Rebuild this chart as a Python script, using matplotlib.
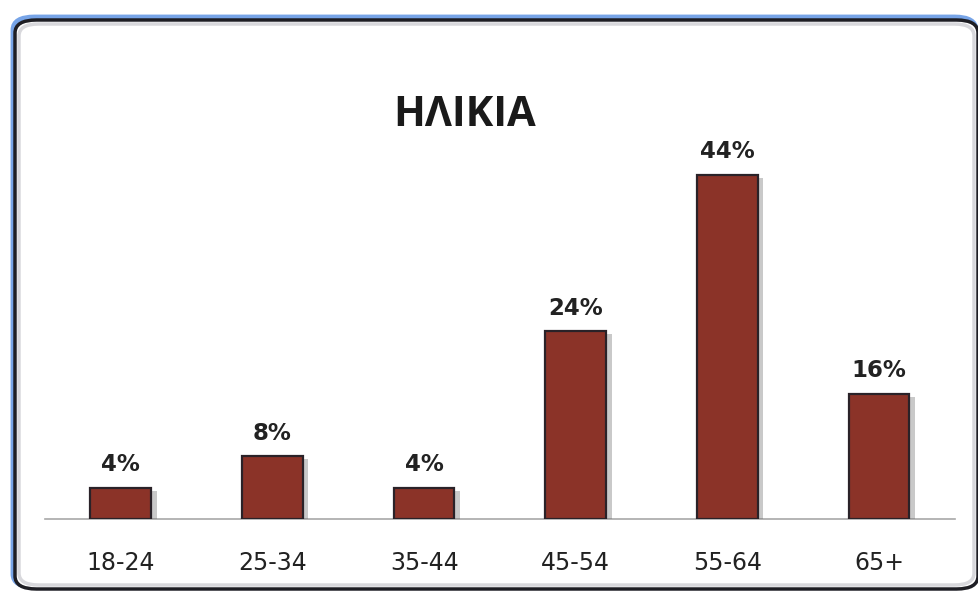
#!/usr/bin/env python3
import matplotlib
matplotlib.use("Agg")
import matplotlib.pyplot as plt
import matplotlib.patheffects as pe
from matplotlib.patches import FancyBboxPatch

# ---------- DATA ----------
AGE_GROUPS = ["18-24", "25-34", "35-44", "45-54", "55-64", "65+"]
PERCENTS = [4, 8, 4, 24, 44, 16]
TITLE = "ΗΛΙΚΙΑ"

# ---------- STYLE ----------
BAR_COLOR = "#8b3328"
BAR_EDGE = "#2a2228"
AXIS_COLOR = "#a8a8a8"
TEXT_COLOR = "#222222"
plt.rcParams['font.family'] = ['DejaVu Sans']

W, H = 979, 592
fig = plt.figure(figsize=(W / 100, H / 100), dpi=100)
fig.patch.set_facecolor("white")

# rounded frame drawn in figure pixel coords
def px_box(x0, y0, x1, y1):
    # y measured from top of image
    return (x0 / W, 1 - y1 / H, (x1 - x0) / W, (y1 - y0) / H)

bx, by, bw, bh = px_box(13, 17, 976, 587)
glow = FancyBboxPatch((bx, by), bw, bh, boxstyle="round,pad=0,rounding_size=0.022",
                      transform=fig.transFigure, facecolor="none",
                      edgecolor="#4a86e0", linewidth=3.5, alpha=0.75, zorder=0)
fig.patches.append(glow)
bx, by, bw, bh = px_box(15, 20, 978, 589)
frame = FancyBboxPatch((bx, by), bw, bh, boxstyle="round,pad=0,rounding_size=0.022",
                       transform=fig.transFigure, facecolor="white",
                       edgecolor="#1e1e24", linewidth=2.5, zorder=1)
fig.patches.append(frame)
bx, by, bw, bh = px_box(19, 24, 974, 585)
inner = FancyBboxPatch((bx, by), bw, bh, boxstyle="round,pad=0,rounding_size=0.02",
                       transform=fig.transFigure, facecolor="none",
                       edgecolor="#d8d8dc", linewidth=2.5, zorder=1)
fig.patches.append(inner)

# ---------- PLOT ----------
ax = fig.add_axes([45 / W, 0.1233, 910 / W, 0.6605])
ax.set_zorder(5)
ax.set_facecolor("none")
xs = list(range(len(AGE_GROUPS)))
bars = ax.bar(xs, PERCENTS, width=0.40, color=BAR_COLOR, edgecolor=BAR_EDGE,
              linewidth=1.6, zorder=3)
for b in bars:
    b.set_path_effects([pe.SimplePatchShadow(offset=(4, -2), shadow_rgbFace="#666666", alpha=0.35),
                        pe.Normal()])

for x, v in zip(xs, PERCENTS):
    ax.annotate(f"{v}%", (x, v), xytext=(0, 12), textcoords="offset points",
                ha="center", va="baseline", fontsize=16.5, fontweight="bold",
                color=TEXT_COLOR)

ax.set_xlim(-0.5, 5.5)
ax.set_ylim(0, 50)
ax.set_xticks(xs)
ax.set_xticklabels(AGE_GROUPS, fontsize=17, color=TEXT_COLOR)
ax.tick_params(axis="x", length=0, pad=23)
ax.set_yticks([])
for side in ["top", "right", "left"]:
    ax.spines[side].set_visible(False)
ax.spines["bottom"].set_color(AXIS_COLOR)
ax.spines["bottom"].set_linewidth(1.2)

t = fig.text(465 / W, 1 - 116 / H, TITLE, ha="center", va="center",
             fontsize=30, fontweight="bold", color="#1a1a1a",
             family=["Open Sans", "DejaVu Sans"])
t.set_zorder(6)

fig.savefig("out.png", dpi=100)
